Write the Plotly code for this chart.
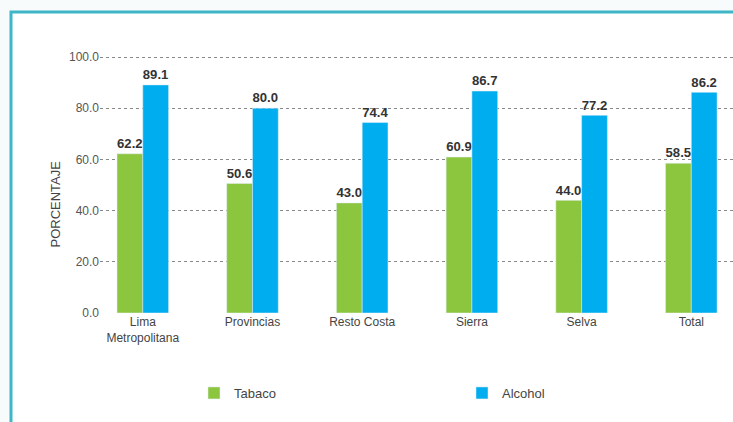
import plotly.graph_objects as go

categories = ["Lima<br>Metropolitana", "Provincias", "Resto Costa", "Sierra", "Selva", "Total"]
tabaco = [62.2, 50.6, 43.0, 60.9, 44.0, 58.5]
alcohol = [89.1, 80.0, 74.4, 86.7, 77.2, 86.2]
y_ticks = [0, 20, 40, 60, 80, 100]

GREEN = "#8cc63f"
BLUE = "#00aeef"

L, R, T, B = 100, 0, 50, 109
W, H = 733, 422
pw, ph = W - L - R, H - T - B

def px_x(x):
    return (x - L) / pw

def px_y(y):
    return (H - B - y) / ph

fig = go.Figure()
label_font = dict(family="Liberation Sans, Arial", size=14, color="#333333", weight="bold")
fig.add_trace(go.Bar(name="Tabaco", x=list(range(6)), y=tabaco, marker_color=GREEN,
                     text=[f"{v:.1f}" for v in tabaco], textposition="outside",
                     textfont=label_font, cliponaxis=False, legend="legend"))
fig.add_trace(go.Bar(name="Alcohol", x=list(range(6)), y=alcohol, marker_color=BLUE,
                     text=[f"{v:.1f}" for v in alcohol], textposition="outside",
                     textfont=label_font, cliponaxis=False, legend="legend2"))

leg_common = dict(orientation="h", xanchor="left", yanchor="middle",
                  bgcolor="rgba(0,0,0,0)", font=dict(size=13, color="#444444"))

fig.update_layout(
    width=W, height=H,
    margin=dict(l=L, r=R, t=T, b=B),
    paper_bgcolor="#f7fbfc",
    plot_bgcolor="white",
    barmode="group",
    bargap=0.53,
    bargroupgap=0,
    font=dict(family="Liberation Sans, Arial", color="#444444", size=11),
    showlegend=True,
    legend=dict(x=px_x(194), y=px_y(393), **leg_common),
    legend2=dict(x=px_x(462), y=px_y(393), **leg_common),
    xaxis=dict(tickmode="array", tickvals=list(range(6)), ticktext=categories,
               range=[-0.39, 5.38], showgrid=False, zeroline=False, showline=False,
               tickfont=dict(size=12, color="#444444"), ticks=""),
    yaxis=dict(range=[0, ph / 2.56], tickvals=y_ticks,
               ticktext=[f"{v:.1f}" for v in y_ticks],
               showgrid=True, gridcolor="#888888", griddash="dot", gridwidth=1,
               zeroline=False, showline=False,
               tickfont=dict(size=12, color="#555555")),
)

fig.add_annotation(text="PORCENTAJE", textangle=-90, xref="paper", yref="paper",
                   x=px_x(45), y=px_y(204), showarrow=False,
                   font=dict(size=13, color="#444444"))

# white card with teal border (cropped at right/bottom)
fig.add_shape(type="rect", xref="paper", yref="paper", layer="below",
              x0=px_x(11), x1=px_x(760), y0=px_y(440), y1=px_y(12),
              line=dict(color="#3fb6c6", width=3), fillcolor="white")

fig.write_html("out.html")
